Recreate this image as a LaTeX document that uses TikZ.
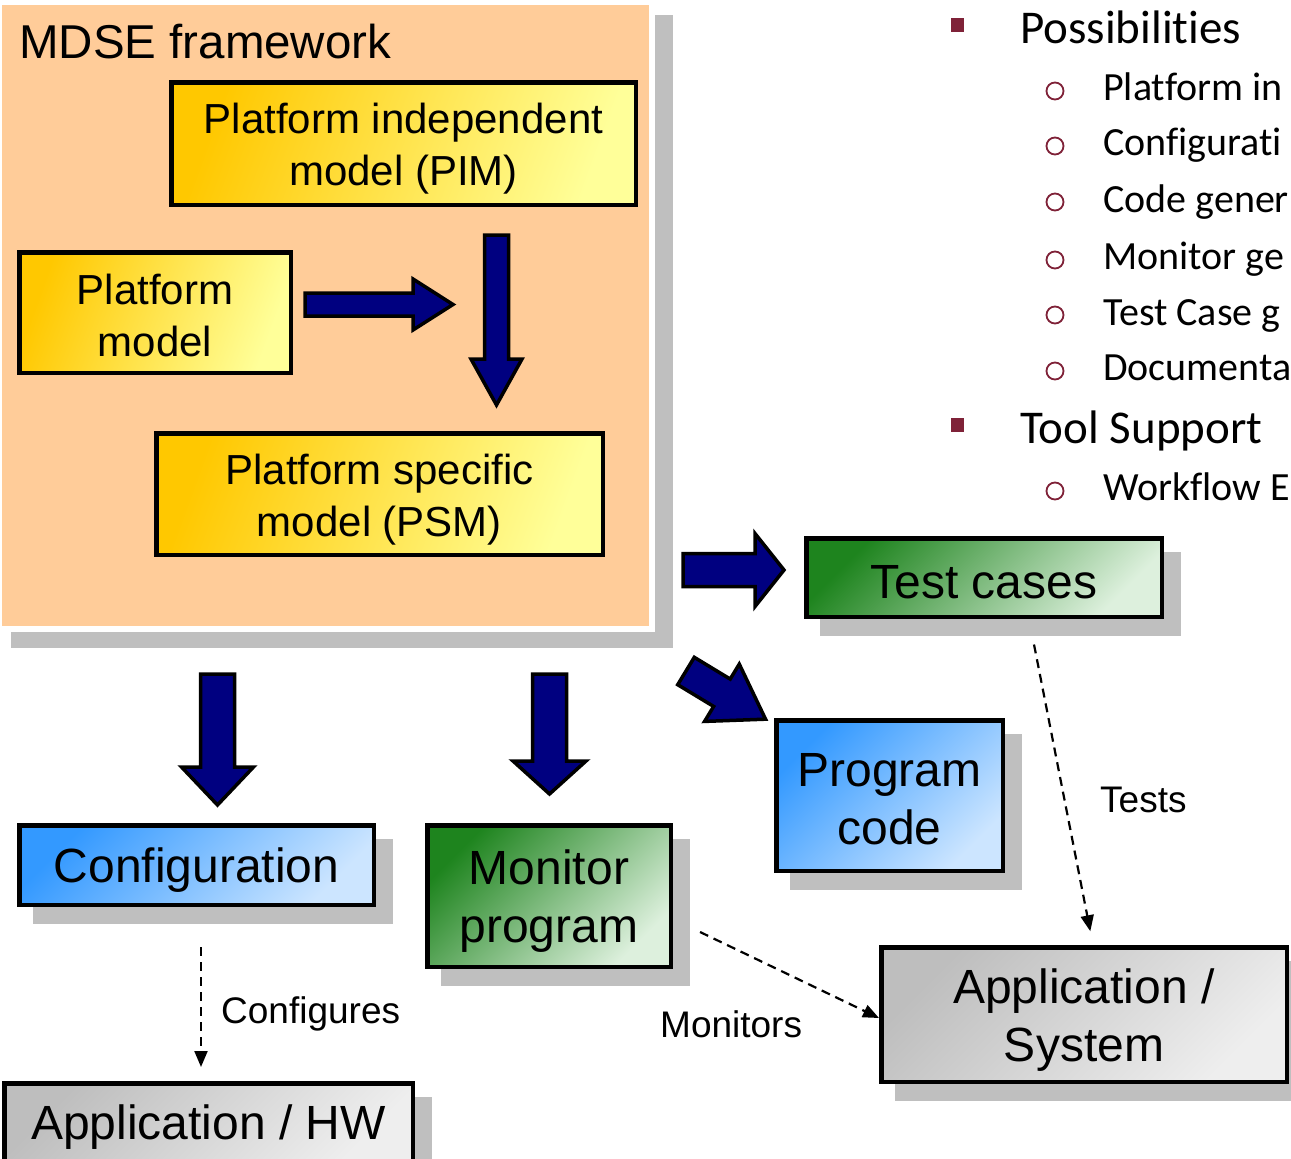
\documentclass[tikz,border=0pt]{standalone}
\usepackage{fontspec}
\setmainfont{Liberation Sans}
\newfontfamily\calibri[Ligatures={NoCommon}]{Carlito}
\usetikzlibrary{shadows,arrows.meta}
\definecolor{frameorange}{HTML}{FFCC99}
\definecolor{yelA}{HTML}{FFC800}
\definecolor{yelB}{HTML}{FFFF99}
\definecolor{navyarr}{HTML}{000080}
\definecolor{shadowgray}{HTML}{BFBFBF}
\definecolor{bluA}{HTML}{3399FF}
\definecolor{bluB}{HTML}{CCE5FF}
\definecolor{grnA}{HTML}{1E841E}
\definecolor{grnB}{HTML}{DDF0DD}
\definecolor{gryA}{HTML}{BEBEBE}
\definecolor{gryB}{HTML}{EEEEEE}
\definecolor{bulletred}{HTML}{7F2238}
\newcommand{\topstrut}[1]{\rule{0pt}{#1}}
% #1 tail coordinate, #2 angle, #3 length, #4 shaft width, #5 head width, #6 head length
\newcommand{\blockarrow}[6]{%
  \draw[blockarr, shift={(#1)}, rotate=#2]
    (0,{-#4/2}) -- ({#3-#6},{-#4/2}) -- ({#3-#6},{-#5/2}) -- (#3,0)
    -- ({#3-#6},{#5/2}) -- ({#3-#6},{#4/2}) -- (0,{#4/2}) -- cycle;}
\begin{document}
\begin{tikzpicture}[x=1pt,y=-1pt,
  box/.style={draw=black, line width=4.5pt, rectangle, inner sep=0pt, align=center},
  yelbox/.style={box, font=\fontsize{42}{52}\selectfont, left color=yelA, right color=yelB, shading angle=70},
  shadowed/.style={general shadow={fill=shadowgray, draw=shadowgray, line width=5pt, shadow xshift=16.5pt, shadow yshift=-16.5pt}},
  lowbox/.style={box, shadowed, font=\fontsize{48}{58}\selectfont},
  bluebox/.style={lowbox, top color=bluA, bottom color=bluB, shading angle=45},
  greenbox/.style={lowbox, top color=grnA, bottom color=grnB, shading angle=45},
  graybox/.style={lowbox, top color=gryA, bottom color=gryB, shading angle=45},
  blockarr/.style={fill=navyarr, draw=black, line width=3.5pt, line join=miter},
  dashconn/.style={draw=black, line width=2.2pt, dash pattern=on 9pt off 6pt, -{Triangle[length=16pt,width=13pt]}},
  lbl/.style={font=\fontsize{37}{42}\selectfont, anchor=base west, inner sep=0pt},
  lvlone/.style={font=\calibri\fontsize{47}{56}\selectfont, anchor=base west, inner sep=0pt},
  lvltwo/.style={font=\calibri\fontsize{40}{48}\selectfont, anchor=base west, inner sep=0pt},
  sqbullet/.style={fill=bulletred, rectangle, minimum width=13pt, minimum height=14pt, inner sep=0pt},
  cbullet/.style={circle, draw=bulletred, line width=1.8pt, minimum size=17pt, inner sep=0pt}
]
\clip (0,0) rectangle (1291,1159);
\fill[white] (0,0) rectangle (1291,1159);

% MDSE framework frame
\fill[shadowgray] (11,15) rectangle (673,648);
\node[rectangle, fill=frameorange, draw=white, line width=6pt, inner sep=0pt,
      minimum width=653pt, minimum height=627pt] (mdse) at (325.5,315.5) {};
\node[anchor=base west, inner sep=0pt, font=\fontsize{47.5}{56}\selectfont] (mdsetitle) at (19,58) {MDSE framework};

\node[yelbox, minimum width=464.5pt, minimum height=122.5pt] (pim) at (403.5,143.5) {\topstrut{40pt}Platform independent\\model (PIM)};
\node[yelbox, minimum width=271.5pt, minimum height=120.5pt] (pm) at (155,312.5) {\topstrut{36pt}Platform\\model};
\node[yelbox, minimum width=446.5pt, minimum height=121.5pt] (psm) at (379.5,494) {\topstrut{42pt}Platform specific\\model (PSM)};

% block arrows
\coordinate (a1) at (305,304.5);
\coordinate (a2) at (496.5,235);
\coordinate (a3) at (683,570);
\coordinate (a4) at (686,671);
\coordinate (a5) at (217.5,674);
\coordinate (a6) at (549.5,674);
\blockarrow{a1}{0}{148}{23}{51}{40}
\blockarrow{a2}{-90}{170}{24}{51}{46}
\blockarrow{a3}{0}{101}{33}{73}{29}
\blockarrow{a4}{-31.2}{93}{32}{67}{51}
\blockarrow{a5}{-90}{131}{34}{72}{38}
\blockarrow{a6}{-90}{120}{34}{73}{33}

% lower boxes
\node[greenbox, minimum width=355.5pt, minimum height=78.5pt] (tc) at (984,577.5) {\topstrut{42pt}Test cases};
\node[bluebox, minimum width=226.5pt, minimum height=150.5pt] (pc) at (889.5,795.5) {\topstrut{41pt}Program\\code};
\node[bluebox, minimum width=354.5pt, minimum height=79.5pt] (conf) at (196.5,865) {\topstrut{44pt}Configuration};
\node[greenbox, minimum width=243.5pt, minimum height=141.5pt] (mon) at (549,896) {\topstrut{45pt}Monitor\\program};
\node[graybox, minimum width=408.5pt, minimum height=79.5pt] (apphw) at (208.5,1123) {\topstrut{43pt}Application / HW};
\node[graybox, minimum width=405.5pt, minimum height=134.5pt] (appsys) at (1084,1014.5) {\topstrut{46pt}Application /\\System};

% dashed connectors
\draw[dashconn, shorten <=40pt, shorten >=14pt] ([xshift=4.5pt]conf.south) -- ([xshift=4.5pt]conf.south |- apphw.north);
\draw[dashconn, shorten <=26pt, shorten >=14pt] ([xshift=45pt]tc.south) -- ([xshift=9pt]appsys.north);
\draw[dashconn, shorten <=30pt] ([yshift=-23pt]mon.east) -- ([yshift=-3.5pt]appsys.west);

\node[lbl] (lconf) at (221,1023) {Configures};
\node[lbl] (lmon) at (660,1037) {Monitors};
\node[lbl] (ltest) at (1100,812) {Tests};

% bullet list
\node[sqbullet] (sq1) at (957,24.5) {};
\node[lvlone] (t1) at (1020,43) {Possibilities};
\node[cbullet] (c1) at (1055,91) {};
\node[lvltwo] (s1) at (1103,100) {Platform in};
\node[cbullet] (c2) at (1055,146) {};
\node[lvltwo] (s2) at (1103,155) {Configurati};
\node[cbullet] (c3) at (1055,202) {};
\node[lvltwo] (s3) at (1103,212) {Code gener};
\node[cbullet] (c4) at (1055,260) {};
\node[lvltwo] (s4) at (1103,269) {Monitor ge};
\node[cbullet] (c5) at (1055,315) {};
\node[lvltwo] (s5) at (1103,325) {Test Case g};
\node[cbullet] (c6) at (1055,371) {};
\node[lvltwo] (s6) at (1103,380) {Documenta};
\node[sqbullet] (sq2) at (957,424.5) {};
\node[lvlone] (t2) at (1020,443) {Tool Support};
\node[cbullet] (c7) at (1055,491) {};
\node[lvltwo] (s7) at (1103,500) {Workflow E};
\end{tikzpicture}
\end{document}
